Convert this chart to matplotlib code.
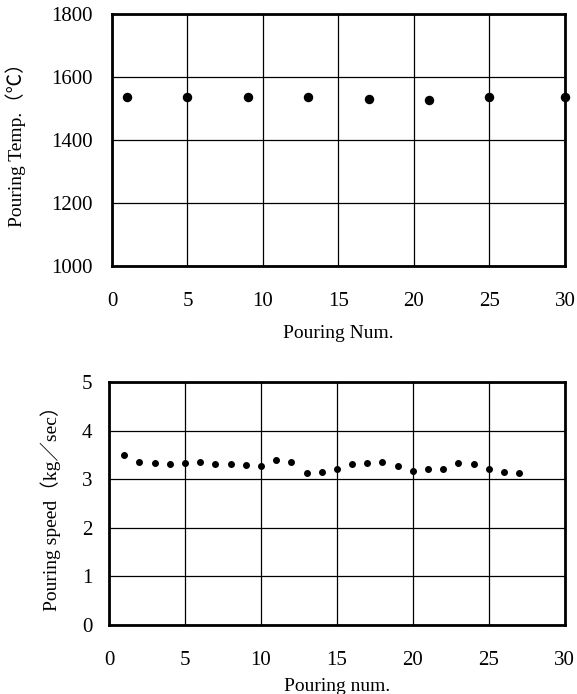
import matplotlib
matplotlib.use("Agg")
import matplotlib.pyplot as plt

# pouring temperature, sampled every few pours
temp_num = [1, 5, 9, 13, 17, 21, 25, 30]
temp_vals = [1538, 1535, 1538, 1535, 1530, 1527, 1535, 1535]

# pouring speed for each pour
speed_num = list(range(1, 28))
speed_vals = [3.51, 3.36, 3.34, 3.32, 3.34, 3.36, 3.32, 3.32, 3.29, 3.27,
              3.40, 3.36, 3.12, 3.16, 3.21, 3.32, 3.34, 3.36, 3.27, 3.18,
              3.21, 3.21, 3.34, 3.32, 3.21, 3.16, 3.12]

fam = ['Liberation Serif', 'Noto Sans CJK JP']
plt.rcParams['font.family'] = fam
plt.rcParams['font.size'] = 15

fig = plt.figure(figsize=(5.77, 6.94), dpi=100)

ax1 = fig.add_axes([0.1941, 0.6167, 0.785, 0.3631])
ax1.plot(temp_num, temp_vals, 'o', color='black', markersize=5.8, clip_on=False, zorder=3)
ax1.set_xlim(0, 30)
ax1.set_ylim(1000, 1800)
ax1.set_xticks(range(0, 31, 5))
ax1.set_yticks(range(1000, 1801, 200))
ax1.set_xlabel("Pouring Num.", fontsize=14)
ax1.set_ylabel("Pouring Temp.（℃）", fontsize=14)
ax1.xaxis.set_label_coords(0.5, -0.234)
ax1.yaxis.set_label_coords(-0.19, 0.5)
ax1.tick_params(axis='y', pad=14)

ax2 = fig.add_axes([0.1889, 0.0994, 0.790, 0.350])
ax2.plot(speed_num, speed_vals, 'o', color='black', markersize=4, zorder=3)
ax2.set_xlim(0, 30)
ax2.set_ylim(0, 5)
ax2.set_xticks(range(0, 31, 5))
ax2.set_yticks(range(0, 6))
ax2.set_xlabel("Pouring num.", fontsize=14)
ax2.set_ylabel("Pouring speed（kg／sec）", fontsize=14)
ax2.xaxis.set_label_coords(0.5, -0.218)
ax2.yaxis.set_label_coords(-0.105, 0.5)
ax2.tick_params(axis='y', pad=12)

for ax in (ax1, ax2):
    ax.grid(True, color='black', linewidth=0.9)
    ax.set_axisbelow(True)
    ax.tick_params(length=0)
    ax.tick_params(axis='x', pad=19)
    for s in ax.spines.values():
        s.set_linewidth(2)
        s.set_color('black')

fig.savefig("out.png", dpi=100)
